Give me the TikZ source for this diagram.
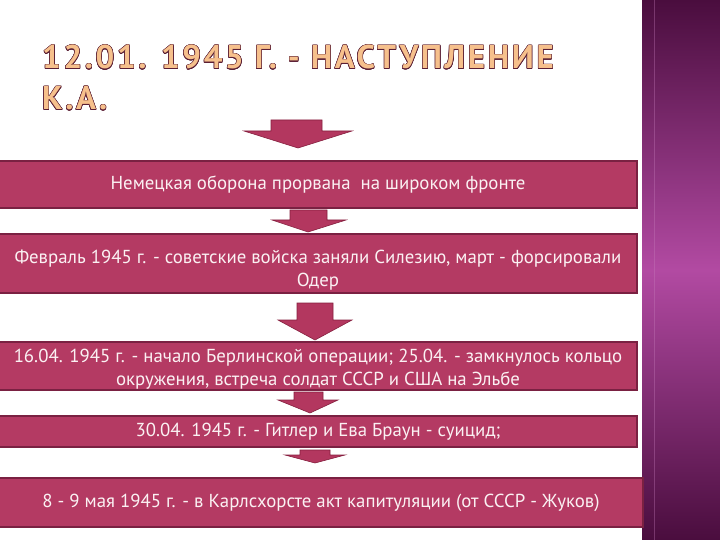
\documentclass[tikz,border=0pt]{standalone}
\usepackage{fontspec}
\setmainfont{PT Sans}
\newfontfamily\titlefont[LetterSpace=8]{PT Sans}
\usepackage{contour}
\contourlength{0.5pt}
\definecolor{boxfill}{HTML}{B43A63}
\definecolor{boxedge}{HTML}{7A2142}
\definecolor{arrowfill}{HTML}{B3375F}
\definecolor{arrowdark}{HTML}{86203F}
\definecolor{paneldark}{HTML}{4A0D3E}
\definecolor{panelmid}{HTML}{B24AA2}
\definecolor{titlefill}{HTML}{F6C08C}
\definecolor{titleedge}{HTML}{5A1E34}
\definecolor{boxtext}{HTML}{FBF1F3}
\tikzset{
  stagebox/.style={draw=boxedge, line width=1.6pt, fill=boxfill, text=boxtext,
    anchor=north west, inner sep=0pt, outer sep=0pt, align=center,
    font=\fontsize{18.8}{23}\selectfont},
  blockarrow/.style={fill=arrowfill, draw=arrowdark, line width=0.6pt, line join=miter}
}
\begin{document}
\begin{tikzpicture}[x=1pt,y=1pt]
\useasboundingbox (0,0) rectangle (720,-540);
\fill[white] (0,0) rectangle (720,-540);
% right panel
\shade[top color=paneldark, bottom color=paneldark, middle color=panelmid] (642,0) rectangle (720,-540);
\draw[panelmid!70!white, opacity=0.35, line width=1pt] (654,0) -- (654,-540);
% title
\node[anchor=base west, inner sep=0pt] (t1) at (42,-69)
  {\titlefont\bfseries\fontsize{33}{40}\selectfont\contour{titleedge}{\textcolor{titlefill}{12.01. 1945 Г. - НАСТУПЛЕНИЕ}}};
\node[anchor=base west, inner sep=0pt] (t2) at (42,-110)
  {\titlefont\bfseries\fontsize{33}{40}\selectfont\contour{titleedge}{\textcolor{titlefill}{К.А.}}};
% boxes
\node[stagebox, minimum width=638pt, minimum height=47pt] (b1) at (-1,-161)
  {Немецкая оборона прорвана\ \ на широком фронте};
\node[stagebox, minimum width=638pt, minimum height=59pt] (b2) at (-1,-234)
  {\rule{0pt}{26pt}Февраль 1945 г. - советские войска заняли Силезию, март - форсировали\\Одер};
\node[stagebox, minimum width=638pt, minimum height=48pt] (b3) at (-1,-342)
  {\rule{0pt}{20pt}16.04. 1945 г. - начало Берлинской операции; 25.04. - замкнулось кольцо\\окружения, встреча солдат СССР и США на Эльбе};
\node[stagebox, minimum width=638pt, minimum height=31pt] (b4) at (-1,-416)
  {30.04. 1945 г. - Гитлер и Ева Браун - суицид;};
\node[stagebox, minimum width=644pt, minimum height=49pt] (b5) at (-1,-478)
  {8 - 9 мая 1945 г. - в Карлсхорсте акт капитуляции (от СССР - Жуков)};
% block arrows
\draw[blockarrow] (271,-120) -- (322,-120) -- (322,-131) -- (352,-131) -- (298,-148) -- (244,-131) -- (271,-131) -- cycle;
\draw[blockarrow] (290,-210) -- (327,-210) -- (327,-220) -- (346,-220) -- (308,-232) -- (272,-220) -- (290,-220) -- cycle;
\draw[blockarrow] (297,-303) -- (333,-303) -- (333,-320) -- (352,-320) -- (315,-340) -- (278,-320) -- (297,-320) -- cycle;
\draw[blockarrow] (294,-392) -- (323,-392) -- (323,-400) -- (338,-400) -- (310,-413) -- (278,-400) -- (294,-400) -- cycle;
\draw[blockarrow] (300,-450) -- (330,-450) -- (330,-455) -- (345,-455) -- (315,-463) -- (285,-455) -- (300,-455) -- cycle;
\end{tikzpicture}
\end{document}
